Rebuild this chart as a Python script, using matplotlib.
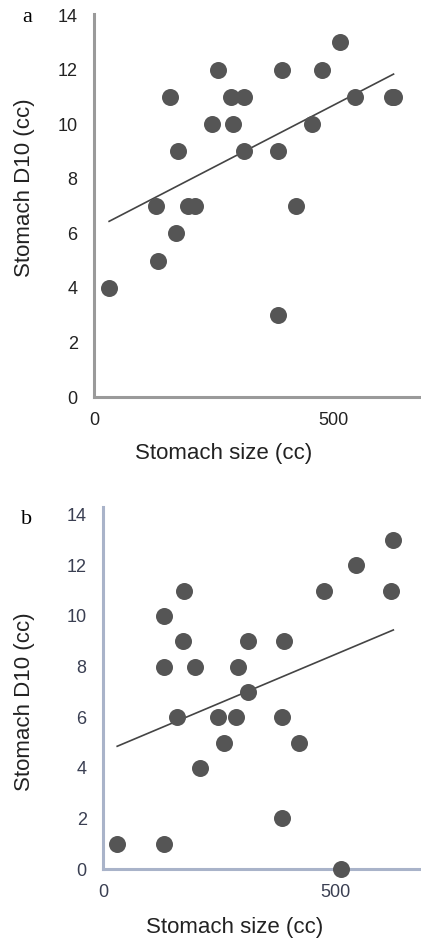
import numpy as np
import matplotlib.pyplot as plt

plt.rcParams['font.family'] = ['Liberation Sans', 'DejaVu Sans']

# panel a: stomach size vs stomach D10
size_a = [31, 130, 133, 158, 171, 176, 197, 211, 246, 259, 286, 291, 313, 314,
          385, 385, 392, 422, 455, 477, 515, 545, 622, 626]
d10_a = [4, 7, 5, 11, 6, 9, 7, 7, 10, 12, 11, 10, 9, 11,
         9, 3, 12, 7, 10, 12, 13, 11, 11, 11]

# panel b
size_b = [30, 130, 130, 132, 158, 171, 175, 198, 209, 247, 261, 286, 290, 312,
          313, 385, 385, 391, 423, 476, 514, 545, 620, 626]
d10_b = [1, 10, 8, 1, 6, 9, 11, 8, 4, 6, 5, 6, 8, 9,
         7, 6, 2, 9, 5, 11, 0, 12, 11, 13]

W, H = 421, 941
fig = plt.figure(figsize=(W / 100, H / 100), dpi=100)


def panel(rect, x, y, ylim_top, axis_color, xmax, tick_color):
    ax = fig.add_axes(rect)
    ax.scatter(x, y, s=150, color='#555555', zorder=3, clip_on=False, linewidths=0)
    k, b = np.polyfit(x, y, 1)
    xs = np.array([min(x), max(x)])
    ax.plot(xs, k * xs + b, color='#444444', lw=1.2, zorder=2)
    ax.set_xlim(0, xmax)
    ax.set_ylim(0, ylim_top)
    ax.set_xticks([0, 500])
    ax.set_yticks(range(0, 15, 2))
    for s in ['top', 'right']:
        ax.spines[s].set_visible(False)
    for s in ['left', 'bottom']:
        ax.spines[s].set_color(axis_color)
        ax.spines[s].set_linewidth(2.2)
    ax.tick_params(length=0, labelsize=13, colors=tick_color)
    ax.tick_params(axis='x', pad=11)
    ax.tick_params(axis='y', pad=12)
    ax.patch.set_visible(False)
    return ax


# panel a geometry (pixels)
la, ba, ha = 94.3, 397, 382
panel([la / W, (H - ba) / H, (W - la) / W, (ha + 1) / H], size_a, d10_a,
      14.04, '#9a9a9a', (W - la) / 0.478, '#222222')

lb, bb, hb = 103.3, 869, 362
panel([lb / W, (H - bb) / H, (W - lb) / W, hb / H], size_b, d10_b,
      hb / 25.3, '#a9b3c9', (W - lb) / 0.4633, '#3a3f52')

fig.text(27 / W, 1 - 17 / H, 'a', family='Liberation Serif', fontsize=16,
         ha='center', va='center')
fig.text(27 / W, 1 - 520 / H, 'b', family='Liberation Serif', fontsize=16,
         ha='center', va='center')

fig.text(25 / W, 1 - 188 / H, 'Stomach D10 (cc)', rotation=90, fontsize=16,
         ha='center', va='center', color='#222222')
fig.text(25 / W, 1 - 702 / H, 'Stomach D10 (cc)', rotation=90, fontsize=16,
         ha='center', va='center', color='#222222')
fig.text(224 / W, 1 - 453 / H, 'Stomach size (cc)', fontsize=16,
         ha='center', va='center', color='#222222')
fig.text(235 / W, 1 - 928 / H, 'Stomach size (cc)', fontsize=16,
         ha='center', va='center', color='#222222')

fig.savefig('out.png', dpi=100, facecolor='white')
